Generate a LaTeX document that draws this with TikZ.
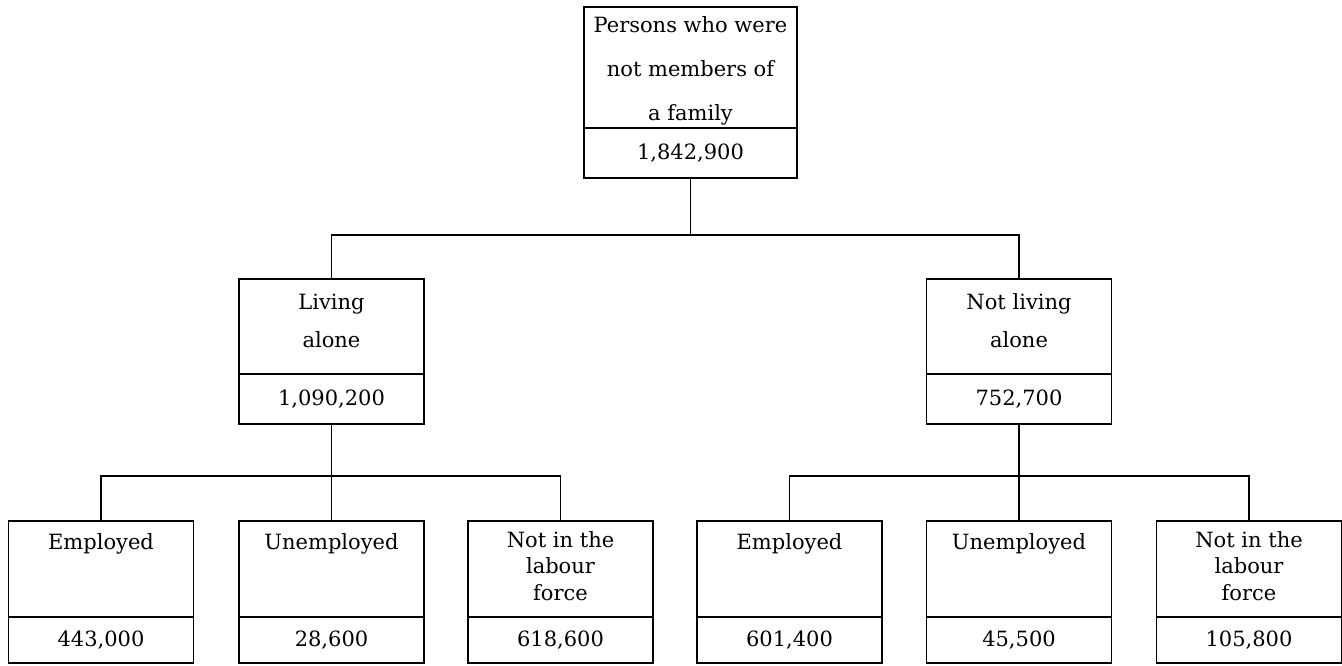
\documentclass[tikz,border=0pt]{standalone}
\usepackage{fontspec}
\setmainfont{DejaVu Serif}
\tikzset{
  box/.style={draw, line width=0.7pt, inner sep=0pt, outer sep=0pt, minimum width=92.5pt},
  head/.style={box, minimum height=48pt},
  count/.style={box, minimum height=23pt, font=\fontsize{10.5}{13}\selectfont},
  words/.style={anchor=north, inner sep=0pt, align=center, yshift=-6pt,
    font=\fontsize{10.5}{13.25}\selectfont},
}
\begin{document}
\begin{tikzpicture}[x=0.5pt, y=-0.5pt]
      \useasboundingbox (0,0) rectangle (1342,665);
      % top
      \node[head, minimum width=106.5pt, minimum height=60.5pt] (top) at (690.5,67.5) {};
      \node[count, minimum width=106.5pt, minimum height=25pt] (topn) at (690.5,153) {1,842,900};
      \node[words, yshift=1.2pt, font=\fontsize{10.5}{22}\selectfont] (topt) at (top.north)
        {Persons who were\\not members of\\a family};
      % second row
      \node[head, minimum height=47.5pt] (alone) at (331.5,326.5) {};
      \node[count, minimum height=25pt] (alonen) at (331.5,399) {1,090,200};
      \node[words, yshift=-1.3pt, font=\fontsize{10.5}{19}\selectfont] (alonet) at (alone.north)
        {Living\\alone};
      \node[head, minimum height=47.5pt] (other) at (1019,326.5) {};
      \node[count, minimum height=25pt] (othern) at (1019,399) {752,700};
      \node[words, yshift=-1.3pt, font=\fontsize{10.5}{19}\selectfont] (othert) at (other.north)
        {Not living\\alone};
      % third row, living alone
      \node[head] (emp1) at (101,569) {};
      \node[count] (emp1n) at (101,640) {443,000};
      \node[words] (emp1t) at (emp1.north) {Employed};
      \node[head] (unemp1) at (331.5,569) {};
      \node[count] (unemp1n) at (331.5,640) {28,600};
      \node[words] (unemp1t) at (unemp1.north) {Unemployed};
      \node[head] (nilf1) at (560.5,569) {};
      \node[count] (nilf1n) at (560.5,640) {618,600};
      \node[words, yshift=1pt] (nilf1t) at (nilf1.north) {Not in the\\labour\\force};
      % third row, not living alone
      \node[head] (emp2) at (789.5,569) {};
      \node[count] (emp2n) at (789.5,640) {601,400};
      \node[words] (emp2t) at (emp2.north) {Employed};
      \node[head] (unemp2) at (1019,569) {};
      \node[count] (unemp2n) at (1019,640) {45,500};
      \node[words] (unemp2t) at (unemp2.north) {Unemployed};
      \node[head] (nilf2) at (1249,569) {};
      \node[count] (nilf2n) at (1249,640) {105,800};
      \node[words, yshift=1pt] (nilf2t) at (nilf2.north) {Not in the\\labour\\force};
      \begin{scope}[line width=0.7pt]
        \draw (topn.south) -- ++(0,57) coordinate (b0);
        \draw (alone.north) |- (b0) -| (other.north);
        \draw (alonen.south) -- (unemp1.north);
        \draw (emp1.north) |- (unemp1.north |- 0,476) -| (nilf1.north);
        \draw (othern.south) -- (unemp2.north);
        \draw (emp2.north) |- (unemp2.north |- 0,476) -| (nilf2.north);
      \end{scope}
    \end{tikzpicture}
\end{document}
